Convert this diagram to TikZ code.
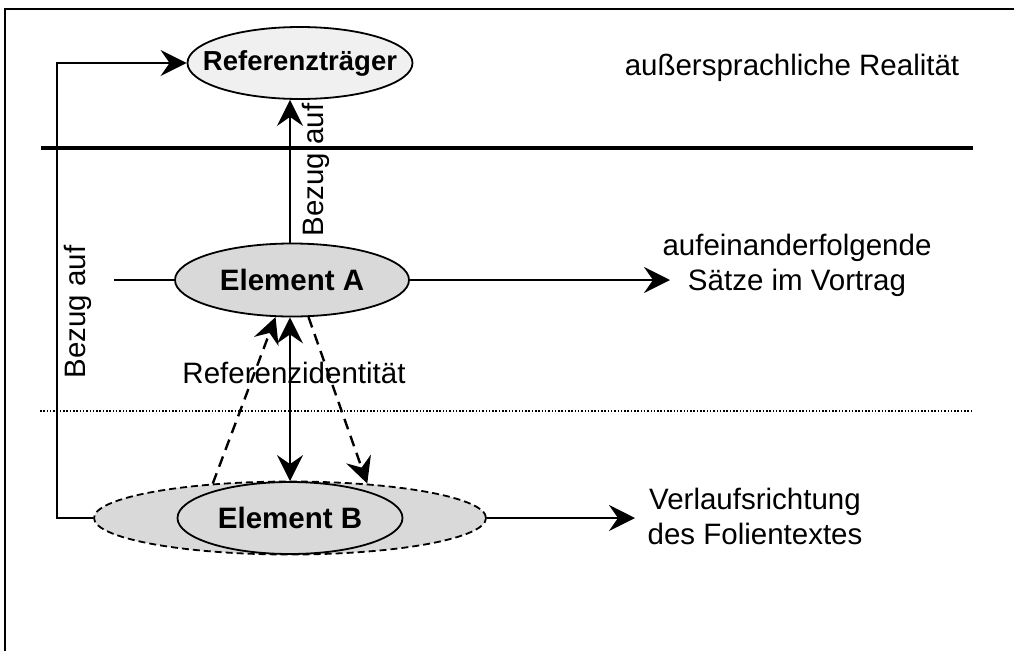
\documentclass[tikz,border=0pt]{standalone}
\usepackage{fontspec}
\setmainfont{Liberation Sans}
\usetikzlibrary{shapes.geometric,arrows.meta}
\begin{document}
\begin{tikzpicture}[x=1pt,y=-1pt,
  every node/.style={font=\fontsize{29.5}{35}\selectfont},
  ell/.style={ellipse, draw, line width=1.8pt, inner sep=0pt},
  btxt/.style={inner sep=0pt, font=\fontsize{29.5}{35}\selectfont\bfseries},
  conn/.style={line width=2.4pt},
  tip/.style={-{Stealth[length=26pt,width=26pt,inset=9pt]}},
  dtip/.style={{Stealth[length=26pt,width=26pt,inset=9pt]}-{Stealth[length=26pt,width=26pt,inset=9pt]}},
  txt/.style={align=center, inner sep=0pt}]
\useasboundingbox (0,0) rectangle (1014,651);
\draw[line width=2.4pt] (5,651) -- (5,9) -- (1014,9);
% separators
\draw[line width=3.5pt] (41,148) -- (973,148);
\draw[line width=1.3pt, dash pattern=on 1.5pt off 1.8pt] (40,411) -- (973,411);
% nodes
\node[ell, fill={rgb,255:red,240;green,240;blue,240}, minimum width=225pt, minimum height=72pt] (R) at (300,63) {};
\node[btxt, font=\fontsize{27.5}{33}\selectfont\bfseries] (Rt) at (R.center) {Referenzträger};
\node[ell, fill={rgb,255:red,217;green,217;blue,217}, minimum width=234pt, minimum height=73pt] (A) at (292,280) {};
\node[btxt] (At) at (A.center) {Element A};
\node[ell, dash pattern=on 7pt off 4pt, fill={rgb,255:red,217;green,217;blue,217}, minimum width=392pt, minimum height=73pt] (Bd) at (290,518) {};
\node[ell, minimum width=225pt, minimum height=72pt] (B) at (290,518) {};
\node[btxt] (Bt) at (B.center) {Element B};
\node[txt] (real) at (792,68) {außersprachliche Realität};
\node[txt] (saetze) at (797,265) {aufeinanderfolgende\\Sätze im Vortrag};
\node[txt] (verlauf) at (755,516) {Verlaufsrichtung\\des Folientextes};
\node[txt] (refid) at (294,373) {Referenzidentität};
% coordinates
\coordinate (aL) at (114,280);
\coordinate (aR) at (670,280);
\coordinate (bR) at (635,518);
\coordinate (c1) at (57,518);
\coordinate (c2) at (57,63);
% connectors
\draw[conn] (aL) -- (A.west);
\draw[conn, tip] (A.east) -- (aR);
\draw[conn, tip] (Bd.east) -- (bR);
\draw[conn, tip] (A.north -| 290,0) -- (R.south -| 290,0);
\node[rotate=90, inner sep=0pt] (bzr) at (316,170) {Bezug auf};
\draw[conn, tip] (Bd.west) -- (c1) -- (c2) -- (R.west);
\node[rotate=90, inner sep=0pt] (bzl) at (78,312) {Bezug auf};
\draw[conn, dtip] (A.south -| 290,0) -- (B.north);
\draw[conn, dash pattern=on 11pt off 7pt, tip] (Bd.156) -- (A.246);
\draw[conn, dash pattern=on 11pt off 7pt, tip] (A.294) -- (Bd.24);
\end{tikzpicture}
\end{document}
